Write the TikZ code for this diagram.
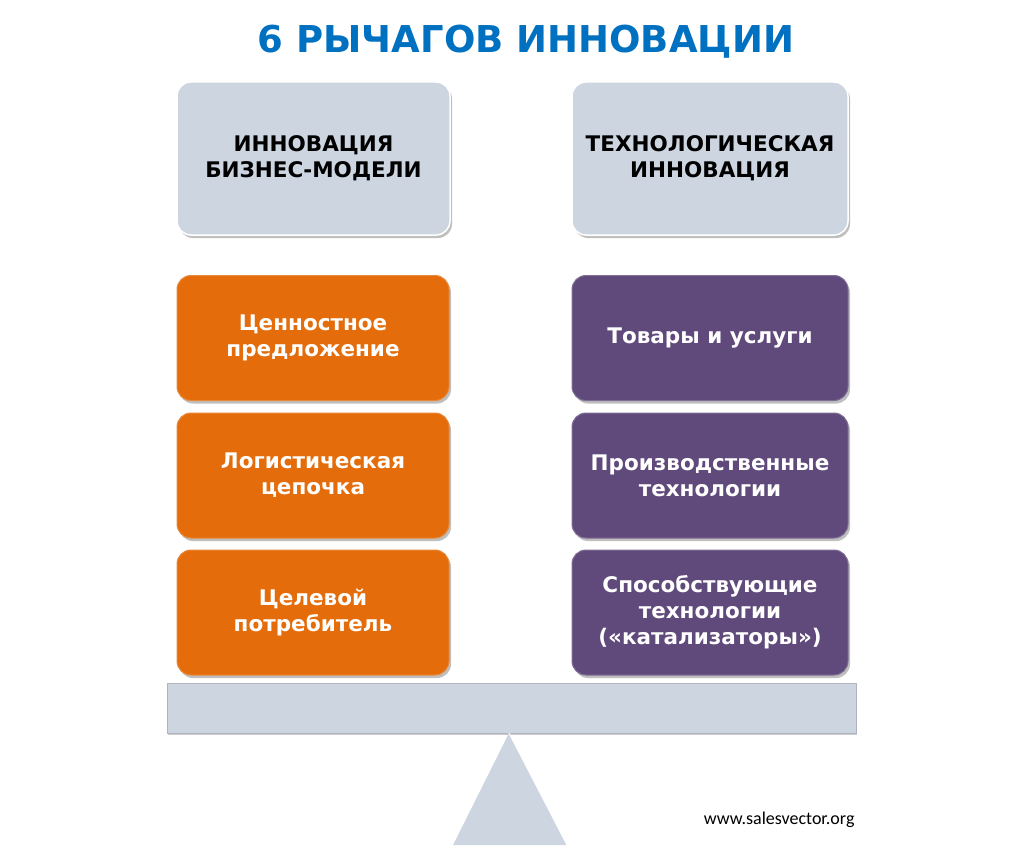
\documentclass[tikz,border=0pt]{standalone}
\usepackage{fontspec}
\setmainfont{DejaVu Sans}
\newfontfamily\webfont{Carlito}
\usetikzlibrary{shadows}
\definecolor{boxgrey}{HTML}{CDD5E1}
\definecolor{boxorange}{HTML}{E46C0A}
\definecolor{boxpurple}{HTML}{604A7B}
\definecolor{titleblue}{HTML}{0070C0}
\tikzset{
  basebox/.style={rounded corners=14pt, inner sep=0pt, align=center,
    font=\bfseries\fontsize{21.5}{26}\selectfont,
    drop shadow={shadow xshift=2pt, shadow yshift=-3pt, fill=black, opacity=0.25}},
  greybox/.style={basebox, fill=boxgrey, draw=white, line width=1.5pt, text=black,
    minimum width=273pt, minimum height=153pt},
  orangebox/.style={basebox, fill=boxorange, draw=boxorange!80!white, line width=1pt, text=white,
    minimum width=272pt, minimum height=125pt},
  purplebox/.style={basebox, fill=boxpurple, draw=boxpurple!80!white, line width=1pt, text=white,
    minimum width=276pt, minimum height=125pt},
  beamstyle/.style={fill=boxgrey, draw=boxgrey!85!black, line width=0.6pt,
    drop shadow={shadow xshift=1pt, shadow yshift=-2pt, fill=black, opacity=0.2}},
}
\begin{document}
\begin{tikzpicture}[x=1pt,y=-1pt]
\useasboundingbox (0,0) rectangle (1024,856);
\fill[white] (0,0) rectangle (1024,856);
\node[text=titleblue, font=\bfseries\fontsize{37}{44}\selectfont] (title) at (526,42) {6 РЫЧАГОВ ИННОВАЦИИ};
% top boxes
\node[greybox] (bm) at (313.5,158.5) {ИННОВАЦИЯ\\БИЗНЕС-МОДЕЛИ};
\node[greybox, minimum width=276pt] (ti) at (710,158.5) {ТЕХНОЛОГИЧЕСКАЯ\\ИННОВАЦИЯ};
% orange
\node[orangebox] (o1) at (313,338) {Ценностное\\предложение};
\node[orangebox] (o2) at (313,475.5) {Логистическая\\цепочка};
\node[orangebox] (o3) at (313,612.5) {Целевой\\потребитель};
% purple
\node[purplebox] (p1) at (710,338) {Товары и услуги};
\node[purplebox] (p2) at (710,475.5) {Производственные\\технологии};
\node[purplebox] (p3) at (710,612.5) {Способствующие\\технологии\\(«катализаторы»)};
% beam and fulcrum
\node[beamstyle, minimum width=689pt, minimum height=50pt, inner sep=0pt] (beam) at (511.5,708) {};
\coordinate (apex) at (509,733);
\coordinate (bl) at (453,845);
\coordinate (br) at (567,845);
\fill[boxgrey] (apex) -- (br) -- (bl) -- cycle;
\draw[white, line width=1pt] (apex) -- (br);
\node[anchor=east, font=\webfont\fontsize{18}{22}\selectfont] (web) at (858,820) {www.salesvector.org};
\end{tikzpicture}
\end{document}
